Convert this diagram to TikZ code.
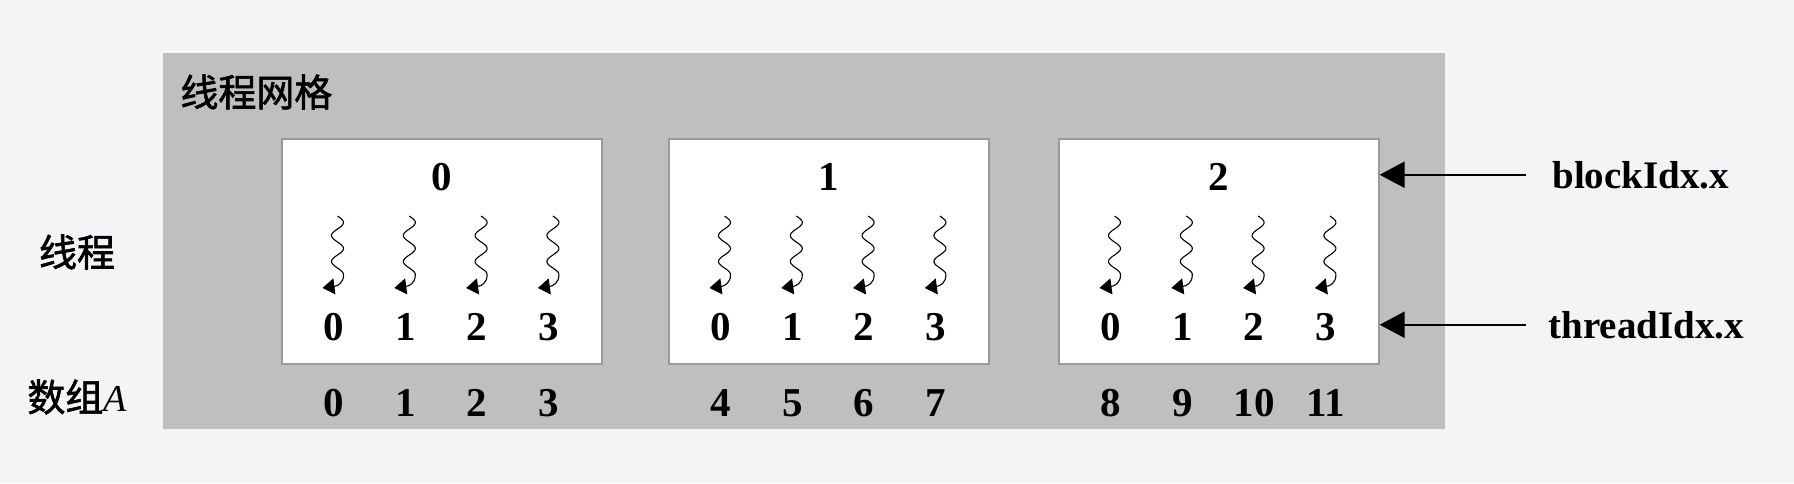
\documentclass[tikz,border=0pt]{standalone}
\usepackage{fontspec}
\setmainfont{Liberation Serif}
\newfontfamily\cjk{Noto Sans CJK SC}[FakeBold=1.6]
\usetikzlibrary{arrows.meta}
\definecolor{bgc}{HTML}{F4F4F6}
\definecolor{gridc}{HTML}{BFBFBF}
\definecolor{blkc}{HTML}{9A9A9A}
\tikzset{
  gridbox/.style={fill=gridc, draw=none, minimum width=641pt, minimum height=188pt, inner sep=0pt},
  blk/.style={fill=white, draw=blkc, line width=0.6pt, minimum width=160pt, minimum height=112.5pt, inner sep=0pt},
  num/.style={font=\fontsize{20.5}{21}\selectfont\bfseries, inner sep=0pt},
  lab/.style={font=\fontsize{19.5}{20}\selectfont\bfseries, inner sep=0pt},
  cjkt/.style={font=\fontsize{19}{20}\selectfont\cjk, inner sep=0pt},
  wave/.style={line width=0.55pt},
  tharrow/.style={line width=0.55pt, -{Triangle[length=6pt,width=8pt]}},
  bigarrow/.style={line width=1.1pt, -{Triangle[length=12.5pt,width=13pt]}}
}
\begin{document}
\begin{tikzpicture}[x=0.5pt,y=-0.5pt]
\useasboundingbox (0,0) rectangle (1794,483);
\fill[bgc] (0,0) rectangle (1794,483);
\node[gridbox] (grid) at (804,241) {};
\node[cjkt, anchor=west] (gt) at (180,92) {线程网格};
\node[cjkt] (thr) at (77,252) {线程};
\node[cjkt] (arr) at (77,397) {数组\fontspec{Liberation Serif}\itshape A};
\foreach \b/\lft in {0/282,1/669,2/1059}{
  \node[blk] (B\b) at (\lft+160,251.5) {};
  \node[num] (T\b) at (\lft+160,177) {\b};
  \foreach \i in {0,...,3}{
    \pgfmathsetmacro\cx{\lft+51.5+71.8*\i}
    \pgfmathtruncatemacro\arrIdx{4*\b+\i}
    \node[num] (t\b\i) at (\cx,327) {\i};
    \node[num] (a\b\i) at (\cx,403) {\arrIdx};
    \draw[wave] plot[domain=0:59,samples=60,smooth] ({\cx+4+6*sin(13.846*\x)},{216+\x});
    \draw[tharrow] (\cx+10,275) .. controls (\cx+10,283) and (\cx+4,286) .. (\cx-11,288);
  }
}
\node[lab, anchor=base west] (lb) at (1552,188) {blockIdx.x};
\node[lab, anchor=base west] (lt) at (1548,338) {threadIdx.x};
\draw[bigarrow] ([xshift=-13pt]lb.west) -- (B2.east |- lb.west);
\draw[bigarrow] ([xshift=-11pt]lt.west) -- (B2.east |- lt.west);
\end{tikzpicture}
\end{document}
